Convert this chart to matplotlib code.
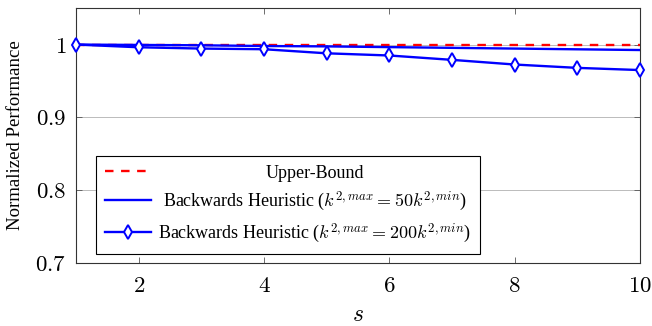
import numpy as np
import matplotlib
matplotlib.use("Agg")
import matplotlib.pyplot as plt

plt.rcParams['font.family'] = ['Liberation Serif', 'DejaVu Serif']
plt.rcParams['mathtext.fontset'] = 'cm'

# data
s = [1, 2, 3, 4, 5, 6, 7, 8, 9, 10]
upper_bound = [1.0, 1.0, 1.0, 1.0, 1.0, 1.0, 1.0, 1.0, 1.0, 1.0]
heur_50 = [1.0, 0.9995, 0.999, 0.998, 0.9975, 0.9965, 0.9955, 0.9945, 0.9935, 0.9925]
heur_200 = [1.0, 0.9963, 0.9945, 0.9936, 0.988, 0.985, 0.979, 0.9726, 0.968, 0.965]

labels = ['Upper-Bound',
          r'Backwards Heuristic ($k^{2,max} = 50k^{2,min}$)',
          r'Backwards Heuristic ($k^{2,max} = 200k^{2,min}$)']

fig = plt.figure(figsize=(6.52, 3.26), dpi=100)
ax = fig.add_axes([0.1166, 0.193, 0.865, 0.782])

ax.plot(s, upper_bound, color='red', ls=(0, (3.6, 3.2)), lw=1.7, label=labels[0], zorder=3)
ax.plot(s, heur_50, color='blue', lw=1.7, label=labels[1], zorder=3)
ax.plot(s, heur_200, color='blue', lw=1.7, marker='d', ms=6.8, mfc='white',
        mec='blue', mew=1.4, label=labels[2], zorder=4, clip_on=False)

ax.set_xlim(1, 10)
ax.set_ylim(0.7, 1.05)
ax.set_xticks([2, 4, 6, 8, 10])
ax.set_xticklabels([f'${v}$' for v in [2, 4, 6, 8, 10]])
ax.set_yticks([0.7, 0.8, 0.9, 1.0])
ax.set_yticklabels(['$0.7$', '$0.8$', '$0.9$', '$1$'])
ax.tick_params(direction='in', top=True, right=True, labelsize=16.5, length=4,
               width=0.6, color='#555555')
ax.tick_params(axis='x', pad=9)
ax.tick_params(axis='y', pad=7)
ax.grid(axis='y', color='#bbbbbb', lw=0.7)
ax.set_axisbelow(True)
for sp in ax.spines.values():
    sp.set_color('#333333')
    sp.set_linewidth(0.8)

ax.set_xlabel('$s$', fontsize=17, labelpad=6)
ax.set_ylabel('Normalized Performance', fontsize=13.5, labelpad=8)

leg = ax.legend(loc='lower left', bbox_to_anchor=(0.035, 0.035), fontsize=13,
                fancybox=False, edgecolor='black', framealpha=1,
                handlelength=2.55, borderpad=0.5, labelspacing=0.45,
                handletextpad=0.4, borderaxespad=0)
leg.get_frame().set_linewidth(0.8)

# centre the legend texts like the pgfplots legend
fig.canvas.draw()
r = fig.canvas.get_renderer()
texts = leg.get_texts()
widths = [t.get_window_extent(r).width for t in texts]
wmax = max(widths)
for t, w in zip(texts, widths):
    t.set_x((wmax - w) / 2)

fig.savefig('out.png', dpi=100)
